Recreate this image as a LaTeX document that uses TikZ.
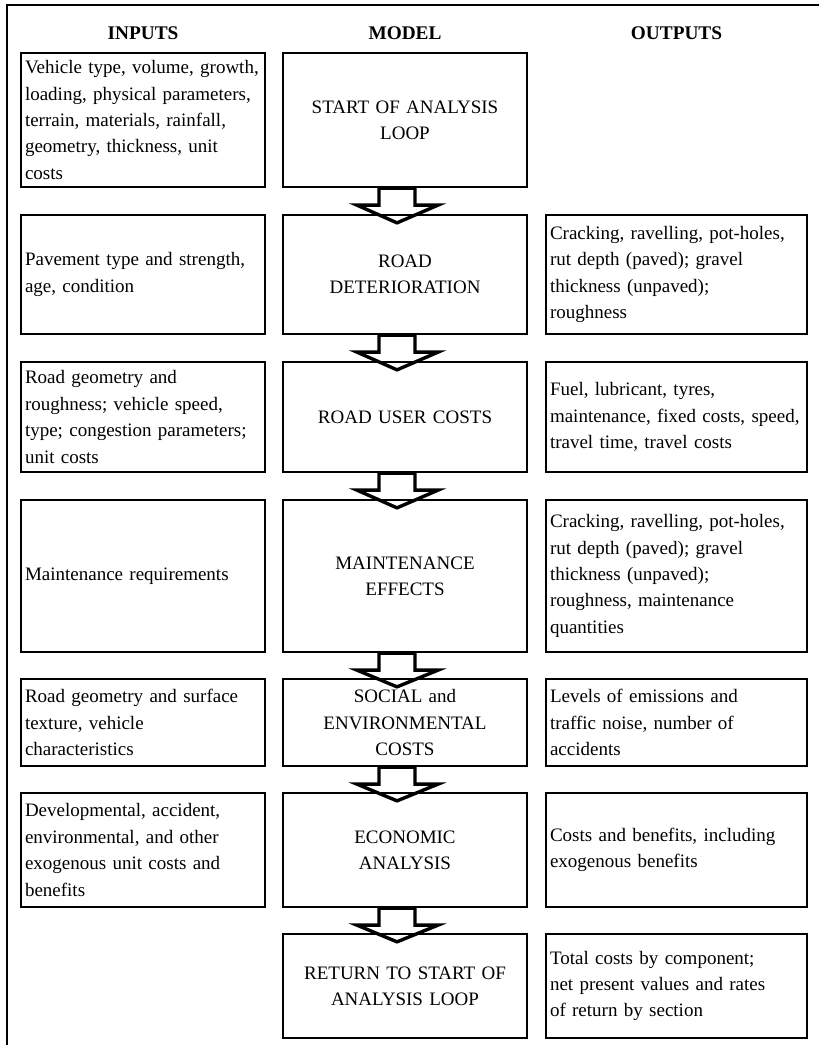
\documentclass[tikz,border=0pt]{standalone}
\usepackage{fontspec}
\setmainfont{Liberation Serif}
\usetikzlibrary{positioning, calc}

\newcommand{\boxfont}{\fontsize{19}{26.4}\selectfont}

% Flecha de bloque entre dos cajas del modelo
\newcommand{\blockarrow}[2]{%
  \draw[bigarrow] ($(#1.south)+(-26,0)$) -- ($(#1.south)+(-26,17)$) -- ($(#1.south)+(-48,17)$)
    -- ($(#2.north)+(-8,9)$) -- ($(#1.south)+(33,17)$) -- ($(#1.south)+(10,17)$)
    -- ($(#1.south)+(10,0)$) -- cycle;}

\tikzset{
  box/.style={draw, line width=2.3pt, inner xsep=4pt, inner ysep=2pt, font=\boxfont},
  inbox/.style={box, minimum width=244pt, text width=236pt, align=left},
  modelbox/.style={box, minimum width=244pt, text width=236pt, align=center},
  outbox/.style={box, minimum width=261pt, text width=253pt, align=left},
  heading/.style={font=\bfseries\fontsize{19.3}{23}\selectfont},
  bigarrow/.style={line width=3.4pt, line join=miter},
}

\begin{document}
\begin{tikzpicture}[x=1pt, y=-1pt]

    % Parametros de columnas
    \def\xin{143}      % centro columna INPUTS
    \def\xmod{405}     % centro columna MODEL
    \def\xout{676.5}   % centro columna OUTPUTS

    \useasboundingbox (0,0) rectangle (819,1045);

    % --- 1. MARCO Y TITULOS ---
    \draw[line width=2.3pt] (7,1045) -- (7,5) -- (819,5);
    \node[heading] (hin) at (\xin,33) {INPUTS};
    \node[heading] (hmod) at (\xmod,33) {MODEL};
    \node[heading] (hout) at (\xout,33) {OUTPUTS};

    % --- 2. FILA 1 ---
    \node[inbox, minimum height=134pt] (in1) at (\xin,120)
      {Vehicle type, volume, growth,\\ loading, physical parameters,\\ terrain, materials, rainfall,\\ geometry, thickness, unit\\ costs};
    \node[modelbox, minimum height=134pt] (m1) at (\xmod,120) {START OF ANALYSIS\\ LOOP};

    % --- 3. FILA 2 ---
    \node[inbox, minimum height=119pt] (in2) at (\xin,274.5) {Pavement type and strength,\\ age, condition};
    \node[modelbox, minimum height=119pt] (m2) at (\xmod,274.5) {ROAD\\ DETERIORATION};
    \node[outbox, minimum height=119pt] (out2) at (\xout,274.5)
      {Cracking, ravelling, pot-holes,\\ rut depth (paved); gravel\\ thickness (unpaved);\\ roughness};

    % --- 4. FILA 3 ---
    \node[inbox, minimum height=110pt] (in3) at (\xin,417)
      {Road geometry and\\ roughness; vehicle speed,\\ type; congestion parameters;\\ unit costs};
    \node[modelbox, minimum height=110pt] (m3) at (\xmod,417) {ROAD USER COSTS};
    \node[outbox, minimum height=110pt] (out3) at (\xout,417)
      {Fuel, lubricant, tyres,\\ maintenance, fixed costs, speed,\\ travel time, travel costs};

    % --- 5. FILA 4 ---
    \node[inbox, minimum height=152pt] (in4) at (\xin,576) {Maintenance requirements};
    \node[modelbox, minimum height=152pt] (m4) at (\xmod,576) {MAINTENANCE\\ EFFECTS};
    \node[outbox, minimum height=152pt] (out4) at (\xout,576)
      {Cracking, ravelling, pot-holes,\\ rut depth (paved); gravel\\ thickness (unpaved);\\ roughness, maintenance\\ quantities};

    % --- 6. FILA 5 ---
    \node[inbox, minimum height=87pt] (in5) at (\xin,722.5)
      {Road geometry and surface\\ texture, vehicle\\ characteristics};
    \node[modelbox, minimum height=87pt] (m5) at (\xmod,722.5) {SOCIAL and\\ ENVIRONMENTAL\\ COSTS};
    \node[outbox, minimum height=87pt] (out5) at (\xout,722.5)
      {Levels of emissions and\\ traffic noise, number of\\ accidents};

    % --- 7. FILA 6 ---
    \node[inbox, minimum height=114pt] (in6) at (\xin,850)
      {Developmental, accident,\\ environmental, and other\\ exogenous unit costs and\\ benefits};
    \node[modelbox, minimum height=114pt] (m6) at (\xmod,850) {ECONOMIC\\ ANALYSIS};
    \node[outbox, minimum height=114pt] (out6) at (\xout,850)
      {Costs and benefits, including\\ exogenous benefits};

    % --- 8. FILA 7 ---
    \node[modelbox, minimum height=104pt] (m7) at (\xmod,986) {RETURN TO START OF\\ ANALYSIS LOOP};
    \node[outbox, minimum height=104pt] (out7) at (\xout,986)
      {Total costs by component;\\ net present values and rates\\ of return by section};

    % --- 9. FLECHAS DEL MODELO ---
    \foreach \a/\b in {m1/m2, m2/m3, m3/m4, m4/m5, m5/m6, m6/m7}
      \blockarrow{\a}{\b};

\end{tikzpicture}
\end{document}
